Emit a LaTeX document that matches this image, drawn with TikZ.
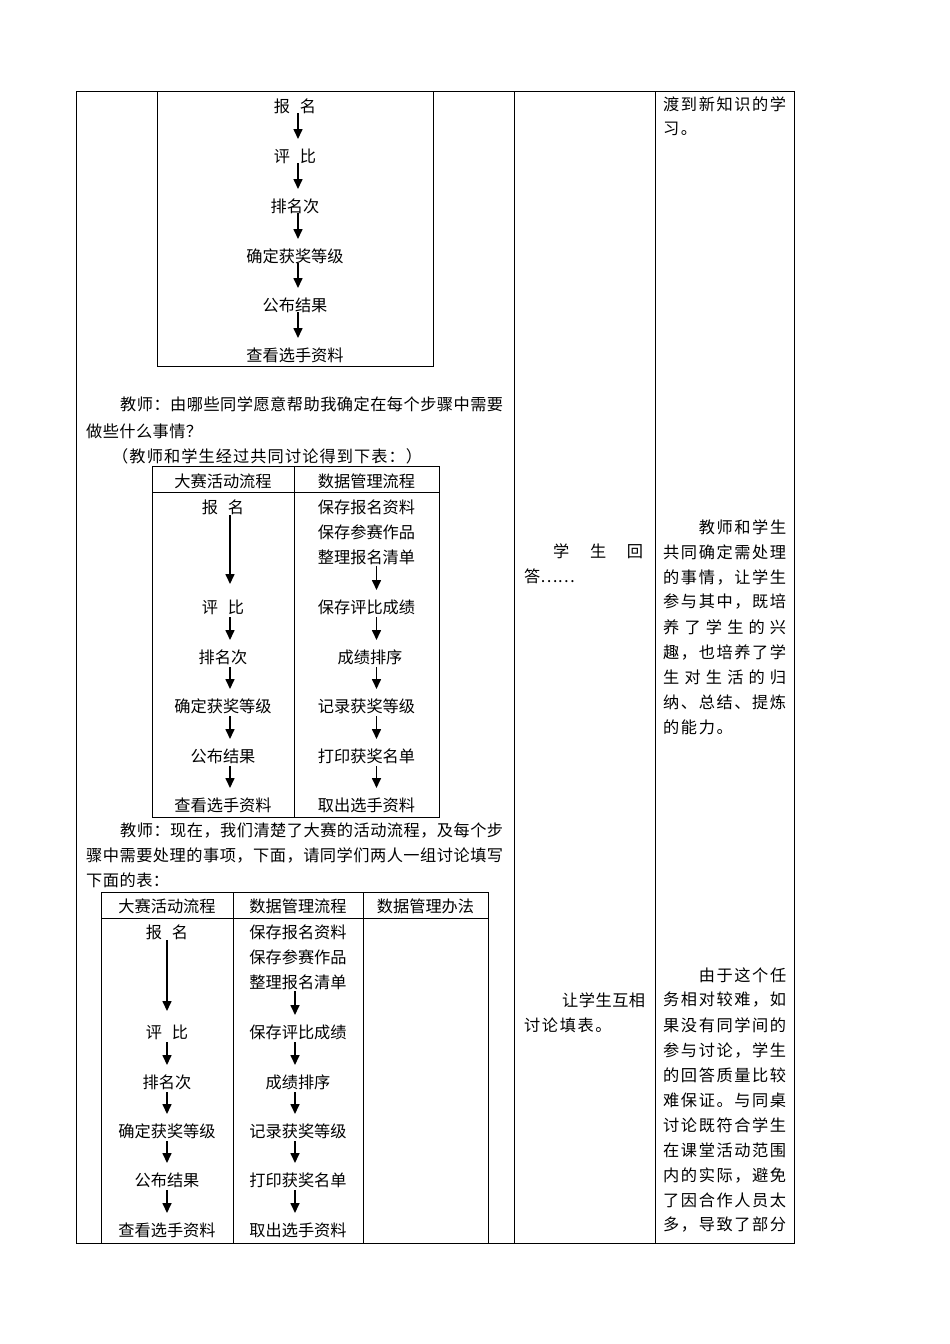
\documentclass[tikz,border=0pt]{standalone}
\usepackage{fontspec}
\newfontfamily\cjk{Noto Sans CJK SC}
\usetikzlibrary{arrows.meta}
\def\sprA#1{\ifx#1\relax\else#1\hfil\expandafter\sprA\fi}
\newcommand\jl[2]{\makebox[#1][s]{\sprA#2\relax\unskip}}
\begin{document}
\begin{tikzpicture}[x=1pt,y=-1pt,
  txt/.style={inner sep=0pt,font=\cjk\fontsize{16.2pt}{20pt}\selectfont},
  ln/.style={txt,anchor=west},
  rule/.style={line width=0.8pt,draw=black},
  arr/.style={line width=1.6pt,-{Triangle[width=9pt,length=10pt]}}]
\fill[white] (0,0) rectangle (950,1344);
\useasboundingbox (0,0) rectangle (950,1344);

% outer table
\draw[rule] (76,91) rectangle (794,1243);
\draw[rule] (514,91) -- (514,1243);
\draw[rule] (655,91) -- (655,1243);

% flowchart 1
\draw[rule] (157,91) rectangle (433,366);
\node[txt] (a1) at (295,106) {报\hspace{0.6em}名};
\node[txt] (a2) at (295,156) {评\hspace{0.6em}比};
\node[txt] (a3) at (295,206) {排名次};
\node[txt] (a4) at (295,256) {确定获奖等级};
\node[txt] (a5) at (295,305) {公布结果};
\node[txt] (a6) at (295,355) {查看选手资料};
\foreach \i/\j in {a1/a2,a2/a3,a3/a4,a4/a5,a5/a6}
  \draw[arr] ([xshift=3pt,yshift=-7pt]\i.center) -- ([xshift=3pt,yshift=17pt]\j.center);

% paragraph 1
\node[ln] (p1) at (120,404) {\jl{383pt}{教师：由哪些同学愿意帮助我确定在每个步骤中需要}};
\node[ln] (p2) at (86,431) {\jl{116pt}{做些什么事情？}};
\node[ln] (p3) at (112,456) {\jl{310pt}{（教师和学生经过共同讨论得到下表：）}};

% table 2
\draw[rule] (152,466) rectangle (439,817);
\draw[rule] (152,492) -- (439,492);
\draw[rule] (294,466) -- (294,817);
\node[txt] (h2a) at (223,481) {大赛活动流程};
\node[txt] (h2b) at (366.5,481) {数据管理流程};
\node[txt] (b1) at (223,507) {报\hspace{0.6em}名};
\node[txt] (b2) at (223,607) {评\hspace{0.6em}比};
\node[txt] (b3) at (223,657) {排名次};
\node[txt] (b4) at (223,706) {确定获奖等级};
\node[txt] (b5) at (223,756) {公布结果};
\node[txt] (b6) at (223,805) {查看选手资料};
\node[txt] (c1) at (366.5,507) {保存报名资料};
\node[txt] (c1b) at (366.5,532) {保存参赛作品};
\node[txt] (c1c) at (366.5,557) {整理报名清单};
\node[txt] (c2) at (366.5,607) {保存评比成绩};
\node[txt] (c3) at (370,657) {成绩排序};
\node[txt] (c4) at (366.5,706) {记录获奖等级};
\node[txt] (c5) at (366.5,756) {打印获奖名单};
\node[txt] (c6) at (366.5,805) {取出选手资料};
\draw[arr] ([xshift=7pt,yshift=-8pt]b1.center) -- ([xshift=7pt,yshift=23pt]b2.center);
\foreach \i/\j in {b2/b3,b3/b4,b4/b5,b5/b6}
  \draw[arr] ([xshift=7pt,yshift=-10pt]\i.center) -- ([xshift=7pt,yshift=17pt]\j.center);
\draw[arr] ([xshift=10pt,yshift=-9pt]c1c.center) -- ([xshift=10pt,yshift=17pt]c2.center);
\draw[arr] ([xshift=10pt,yshift=-10pt]c2.center) -- ([xshift=6.5pt,yshift=17pt]c3.center);
\draw[arr] ([xshift=6.5pt,yshift=-10pt]c3.center) -- ([xshift=10pt,yshift=17pt]c4.center);
\foreach \i/\j in {c4/c5,c5/c6}
  \draw[arr] ([xshift=10pt,yshift=-10pt]\i.center) -- ([xshift=10pt,yshift=17pt]\j.center);

% paragraph 2
\node[ln] (q1) at (120,830) {\jl{383pt}{教师：现在，我们清楚了大赛的活动流程，及每个步}};
\node[ln] (q2) at (86,855) {\jl{417pt}{骤中需要处理的事项，下面，请同学们两人一组讨论填写}};
\node[ln] (q3) at (86,880) {\jl{83pt}{下面的表：}};

% table 3
\draw[rule] (101,892) rectangle (488,1243);
\draw[rule] (101,918) -- (488,918);
\draw[rule] (233,892) -- (233,1243);
\draw[rule] (363,892) -- (363,1243);
\node[txt] (h3a) at (167,906) {大赛活动流程};
\node[txt] (h3b) at (298,906) {数据管理流程};
\node[txt] (h3c) at (425.5,906) {数据管理办法};
\node[txt] (d1) at (167,932) {报\hspace{0.6em}名};
\node[txt] (d2) at (167,1032) {评\hspace{0.6em}比};
\node[txt] (d3) at (167,1082) {排名次};
\node[txt] (d4) at (167,1131) {确定获奖等级};
\node[txt] (d5) at (167,1180) {公布结果};
\node[txt] (d6) at (167,1230) {查看选手资料};
\node[txt] (e1) at (298,932) {保存报名资料};
\node[txt] (e1b) at (298,957) {保存参赛作品};
\node[txt] (e1c) at (298,982) {整理报名清单};
\node[txt] (e2) at (298,1032) {保存评比成绩};
\node[txt] (e3) at (298,1082) {成绩排序};
\node[txt] (e4) at (298,1131) {记录获奖等级};
\node[txt] (e5) at (298,1180) {打印获奖名单};
\node[txt] (e6) at (298,1230) {取出选手资料};
\draw[arr] ([yshift=-8pt]d1.center) -- ([yshift=21pt]d2.center);
\foreach \i/\j in {d2/d3,d3/d4,d4/d5,d5/d6}
  \draw[arr] ([yshift=-10pt]\i.center) -- ([yshift=17pt]\j.center);
\draw[arr] ([xshift=-3pt,yshift=-9pt]e1c.center) -- ([xshift=-3pt,yshift=17pt]e2.center);
\foreach \i/\j in {e2/e3,e3/e4,e4/e5,e5/e6}
  \draw[arr] ([xshift=-3pt,yshift=-10pt]\i.center) -- ([xshift=-3pt,yshift=17pt]\j.center);

% middle column
\node[ln] (m1) at (553,551) {\jl{90pt}{学生回}};
\node[ln] (m2) at (524,576) {答……};
\node[ln] (n1) at (562,1000) {\jl{83pt}{让学生互相}};
\node[ln] (n2) at (524,1025) {\jl{87.4pt}{讨论填表。}};

% right column
\node[ln] (r0a) at (663,104) {\jl{123pt}{渡到新知识的学}};
\node[ln] (r0b) at (663,129) {\jl{34pt}{习。}};

\node[ln] (r1) at (698.6,527) {\jl{87.4pt}{教师和学生}};
\node[ln] (r2) at (663,552) {\jl{123pt}{共同确定需处理}};
\node[ln] (r3) at (663,577) {\jl{123pt}{的事情，让学生}};
\node[ln] (r4) at (663,602) {\jl{123pt}{参与其中，既培}};
\node[ln] (r5) at (663,627) {\jl{123pt}{养了学生的兴}};
\node[ln] (r6) at (663,652) {\jl{123pt}{趣，也培养了学}};
\node[ln] (r7) at (663,677) {\jl{123pt}{生对生活的归}};
\node[ln] (r8) at (663,702) {\jl{123pt}{纳、总结、提炼}};
\node[ln] (r9) at (663,727) {\jl{69.6pt}{的能力。}};

\node[ln] (s1) at (698.6,975) {\jl{87.4pt}{由于这个任}};
\node[ln] (s2) at (663,1000) {\jl{123pt}{务相对较难，如}};
\node[ln] (s3) at (663,1025) {\jl{123pt}{果没有同学间的}};
\node[ln] (s4) at (663,1050) {\jl{123pt}{参与讨论，学生}};
\node[ln] (s5) at (663,1075) {\jl{123pt}{的回答质量比较}};
\node[ln] (s6) at (663,1100) {\jl{123pt}{难保证。与同桌}};
\node[ln] (s7) at (663,1125) {\jl{123pt}{讨论既符合学生}};
\node[ln] (s8) at (663,1150) {\jl{123pt}{在课堂活动范围}};
\node[ln] (s9) at (663,1175) {\jl{123pt}{内的实际，避免}};
\node[ln] (s10) at (663,1200) {\jl{123pt}{了因合作人员太}};
\node[ln] (s11) at (663,1225) {\jl{123pt}{多，导致了部分}};
\end{tikzpicture}
\end{document}
